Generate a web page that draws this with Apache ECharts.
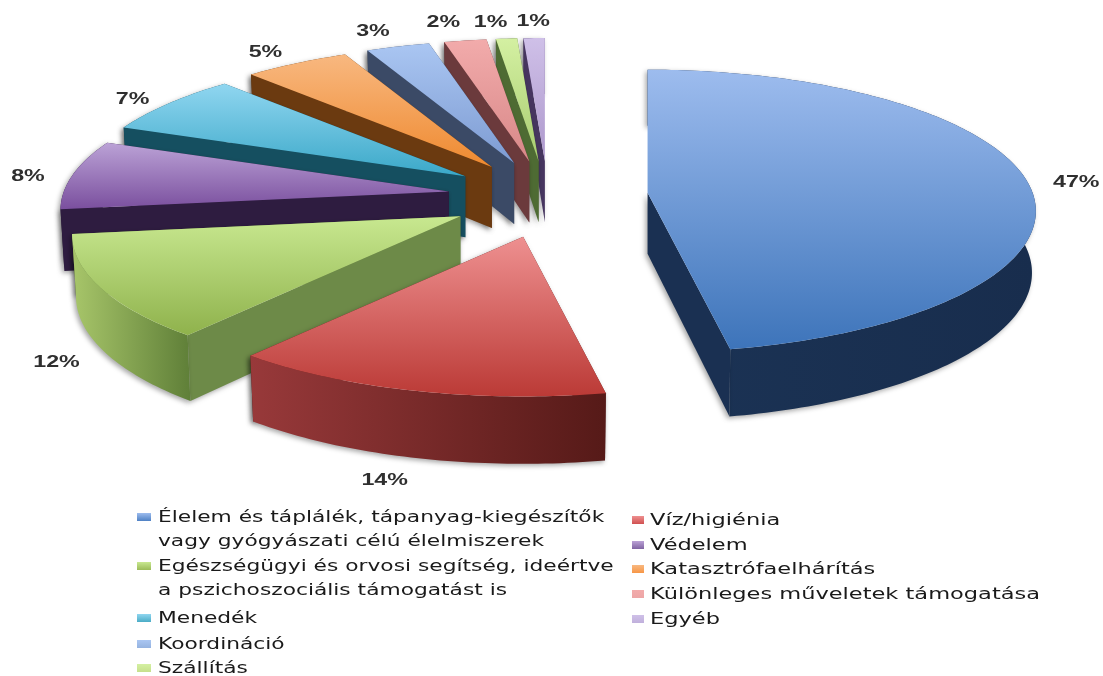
<!DOCTYPE html>
<html lang="hu">
<head>
    <meta charset="UTF-8">
    <title>Exploded 3D pie</title>
    <script src="https://cdn.jsdelivr.net/npm/echarts@6/dist/echarts.min.js"></script>
    <style>
        html, body { margin: 0; background: #fff; }
        #main { width: 1103px; height: 676px; }
    </style>
</head>
<body>
    <div id="main"></div>
    <script>
        // Chart data
        const categories = [
            'Élelem és táplálék, tápanyag-kiegészítők\nvagy gyógyászati célú élelmiszerek',
            'Víz/higiénia',
            'Egészségügyi és orvosi segítség, ideértve\na pszichoszociális támogatást is',
            'Védelem',
            'Menedék',
            'Katasztrófaelhárítás',
            'Koordináció',
            'Különleges műveletek támogatása',
            'Szállítás',
            'Egyéb'
        ];
        const values = [47, 14, 12, 8, 7, 5, 3, 2, 1, 1];

        // Colours: top surface gradient, rim wall left/right, straight wall
        const topLight = ['#9dbcee', '#ee9090', '#c8e890', '#bba2d6', '#90d6f0', '#f8b880', '#aac6f2', '#f2abab', '#d4f0a2', '#cfc0e8'];
        const topDark = ['#3d74ba', '#bb3a36', '#8fb24c', '#7a4f9e', '#3aa8c8', '#ef8a30', '#7d9bd2', '#d88888', '#a8cc70', '#ad98cc'];
        const rimLeft = ['#1b3355', '#98393a', '#a8c66a', '#2e1c40', '#154f60', '#6b3a10', '#3b4a66', '#6b3a3c', '#4e6b33', '#46355f'];
        const rimRight = ['#182d4d', '#561a18', '#5f7f38', '#2e1c40', '#154f60', '#6b3a10', '#3b4a66', '#6b3a3c', '#4e6b33', '#46355f'];
        const edgeWall = ['#1a3052', '#5e1c1a', '#6d8a48', '#2e1c40', '#154f60', '#6b3a10', '#3b4a66', '#6b3a3c', '#4e6b33', '#46355f'];
        const legendColor = ['#4f81c4', '#d05050', '#9bbb59', '#8064a2', '#4bacc6', '#f79646', '#95b3e0', '#eda6a6', '#c6e08c', '#c0b0dc'];

        // Label offsets from the rim at the middle of each slice
        const labelNudge = [[50, 3], [-29, 90], [-44, 75], [-45, 2], [-36, -4], [-31, -11], [-25, -15], [-22, -18], [-16, -16], [-1, -16]];

        // Pie geometry
        const centerX = 548, centerY = 196;
        const radiusX = 385, radiusY = 139, persp = 0.13;
        const explodeX = 100, explodeFront = 42, explodeBack = 35;
        const total = values.reduce((a, b) => a + b, 0);

        function project(deg) {
            const t = deg * Math.PI / 180;
            const w = 1 + persp * Math.cos(t);
            return [radiusX * Math.sin(t) / w, -radiusY * Math.cos(t) / w];
        }

        function sliceAngles(i) {
            const before = values.slice(0, i).reduce((a, b) => a + b, 0);
            return [before / total * 360, (before + values[i]) / total * 360];
        }

        function apexOf(i) {
            const [a, b] = sliceAngles(i);
            const mid = (a + b) / 2 * Math.PI / 180;
            const v = Math.cos(mid);
            return [centerX + explodeX * Math.sin(mid), centerY - (v > 0 ? explodeBack : explodeFront) * v];
        }

        // Side walls hang below the top surface, a bit deeper towards the viewer
        function dropPoint(p, apex) {
            const py = p[1] - apex[1];
            return [p[0] - (p[0] - apex[0]) * 0.01, p[1] + 61 + 0.04 * py];
        }

        // Data goes in back to front, so the last slice is painted first
        function renderSlice(params) {
            const i = values.length - 1 - params.dataIndex;
            const [a, b] = sliceAngles(i);
            const apex = apexOf(i);
            const arc = [];
            const steps = Math.max(4, Math.ceil(b - a));
            for (let s = 0; s <= steps; s++) {
                const q = project(a + (b - a) * s / steps);
                arc.push([apex[0] + q[0], apex[1] + q[1]]);
            }
            const arcLow = arc.map(p => dropPoint(p, apex));
            const apexLow = dropPoint(apex, apex);
            const shadow = { shadowColor: 'rgba(0,0,0,0.35)', shadowBlur: 5, shadowOffsetX: -2, shadowOffsetY: 2 };

            const first = arc[0], last = arc[arc.length - 1];
            const wallFirst = {
                type: 'polygon',
                shape: { points: [apex, first, arcLow[0], apexLow] },
                style: { fill: edgeWall[i], ...shadow }
            };
            const wallLast = {
                type: 'polygon',
                shape: { points: [apex, last, arcLow[arcLow.length - 1], apexLow] },
                style: { fill: edgeWall[i], ...shadow }
            };
            const wallRim = {
                type: 'polygon',
                shape: { points: arc.concat(arcLow.slice().reverse()) },
                style: {
                    fill: new echarts.graphic.LinearGradient(1, 0, 0, 0, [
                        { offset: 0, color: rimRight[i] },
                        { offset: 1, color: rimLeft[i] }
                    ]),
                    ...shadow
                }
            };
            const top = {
                type: 'polygon',
                shape: { points: [apex].concat(arc) },
                style: {
                    fill: new echarts.graphic.LinearGradient(0, 0, 0, 1, [
                        { offset: 0, color: topLight[i] },
                        { offset: 1, color: topDark[i] }
                    ])
                }
            };

            // the straight wall further back goes first, rim first when it faces away
            const edges = first[1] < last[1] ? [wallFirst, wallLast] : [wallLast, wallFirst];
            const midDeg = (a + b) / 2;
            const walls = Math.cos(midDeg * Math.PI / 180) > 0 ? [wallRim, ...edges] : [...edges, wallRim];

            // percent label
            const mid = project(midDeg);
            const label = {
                type: 'text',
                x: apex[0] + mid[0] + labelNudge[i][0],
                y: apex[1] + mid[1] + labelNudge[i][1],
                scaleX: 1.45,
                style: {
                    text: values[i] + '%',
                    font: 'bold 16px "Liberation Sans"',
                    fill: '#2f2f2f',
                    align: 'center',
                    verticalAlign: 'middle'
                }
            };
            return { type: 'group', children: [...walls, top, label] };
        }

        // Legend is two hand placed columns because the text is stretched wide
        const legendCols = [
            { idx: [0, 2, 4, 6, 8], boxX: 137, boxW: 14, textX: 158, textScale: 1.45, rows: [[518, 542], [567, 591], [619], [645], [669]] },
            { idx: [1, 3, 5, 7, 9], boxX: 632, boxW: 12, textX: 650, textScale: 1.5, rows: [[521], [546], [570], [595], [620]] }
        ];
        const legendElements = [];
        legendCols.forEach(col => {
            col.idx.forEach((c, n) => {
                const lines = categories[c].split('\n');
                legendElements.push({
                    type: 'rect',
                    shape: { x: col.boxX, y: col.rows[n][0] - 5, width: col.boxW, height: 8 },
                    style: {
                        fill: new echarts.graphic.LinearGradient(0, 0, 0, 1, [
                            { offset: 0, color: topLight[c] },
                            { offset: 1, color: legendColor[c] }
                        ])
                    }
                });
                lines.forEach((line, l) => {
                    legendElements.push({
                        type: 'text',
                        x: col.textX,
                        y: col.rows[n][l],
                        scaleX: col.textScale,
                        style: {
                            text: line,
                            font: '15px "DejaVu Sans"',
                            fill: '#1a1a1a',
                            align: 'left',
                            verticalAlign: 'middle'
                        }
                    });
                });
            });
        });

        const chart = echarts.init(document.getElementById('main'));
        chart.setOption({
            animation: false,
            backgroundColor: '#fff',
            graphic: { elements: legendElements },
            series: [{
                type: 'custom',
                coordinateSystem: 'none',
                renderItem: renderSlice,
                data: values.slice().reverse()
            }]
        });
    </script>
</body>
</html>
